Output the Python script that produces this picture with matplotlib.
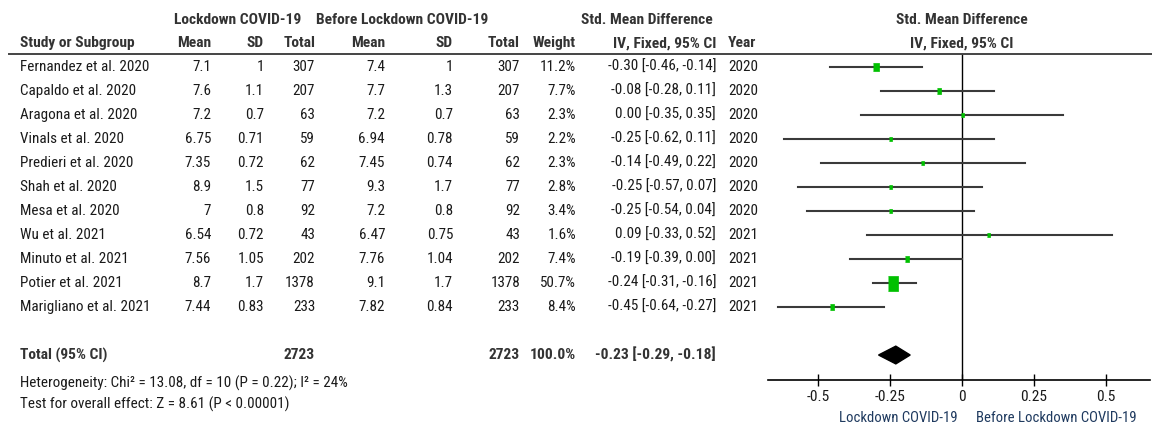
import matplotlib
matplotlib.use("Agg")
import matplotlib.pyplot as plt
from matplotlib import font_manager as fm
from matplotlib.transforms import blended_transform_factory

# Data
studies = ["Fernandez et al. 2020", "Capaldo et al. 2020", "Aragona et al. 2020",
           "Vinals et al. 2020", "Predieri et al. 2020", "Shah et al. 2020",
           "Mesa et al. 2020", "Wu et al. 2021", "Minuto et al. 2021",
           "Potier et al. 2021", "Marigliano et al. 2021"]
lock_mean = [7.1, 7.6, 7.2, 6.75, 7.35, 8.9, 7, 6.54, 7.56, 8.7, 7.44]
lock_sd = [1, 1.1, 0.7, 0.71, 0.72, 1.5, 0.8, 0.72, 1.05, 1.7, 0.83]
lock_n = [307, 207, 63, 59, 62, 77, 92, 43, 202, 1378, 233]
before_mean = [7.4, 7.7, 7.2, 6.94, 7.45, 9.3, 7.2, 6.47, 7.76, 9.1, 7.82]
before_sd = [1, 1.3, 0.7, 0.78, 0.74, 1.7, 0.8, 0.75, 1.04, 1.7, 0.84]
before_n = [307, 207, 63, 59, 62, 77, 92, 43, 202, 1378, 233]
weight = [11.2, 7.7, 2.3, 2.2, 2.3, 2.8, 3.4, 1.6, 7.4, 50.7, 8.4]
smd = [-0.30, -0.08, 0.00, -0.25, -0.14, -0.25, -0.25, 0.09, -0.19, -0.24, -0.45]
ci_lo = [-0.46, -0.28, -0.35, -0.62, -0.49, -0.57, -0.54, -0.33, -0.39, -0.31, -0.64]
ci_hi = [-0.14, 0.11, 0.35, 0.11, 0.22, 0.07, 0.04, 0.52, 0.00, -0.16, -0.27]
years = [2020, 2020, 2020, 2020, 2020, 2020, 2020, 2021, 2021, 2021, 2021]

total_lock = 2723
total_before = 2723
total_smd, total_lo, total_hi = -0.23, -0.29, -0.18
heterogeneity = "Heterogeneity: Chi² = 13.08, df = 10 (P = 0.22); I² = 24%"
overall = "Test for overall effect: Z = 8.61 (P < 0.00001)"
xticks = [-0.5, -0.25, 0, 0.25, 0.5]
xtick_labels = ["-0.5", "-0.25", "0", "0.25", "0.5"]


# pick a narrow font if one is installed
def pick_font():
    fl = fm.fontManager.ttflist
    names = {f.name for f in fl}
    for n in ['Liberation Sans Narrow', 'Arial Narrow', 'Roboto Condensed',
              'Noto Sans Condensed', 'Open Sans Condensed', 'DejaVu Sans Condensed']:
        if n in names:
            return n, 'normal'
    for n in ['Noto Sans', 'Roboto', 'Open Sans', 'DejaVu Sans']:
        for f in fl:
            if f.name == n and 'condensed' in str(f.stretch):
                return n, f.stretch
    return 'Liberation Sans', 'normal'


fam, stretch = pick_font()
plt.rcParams['font.family'] = [fam, 'DejaVu Sans']
plt.rcParams['font.stretch'] = stretch

W, H = 1152, 423
fig = plt.figure(figsize=(W / 100, H / 100), dpi=100)
renderer = fig.canvas.get_renderer()


def fit_size(s, px, weight='normal'):
    t = fig.text(0, 0, s, fontsize=12, fontweight=weight)
    w = t.get_window_extent(renderer).width
    t.remove()
    return min(12.5, 12 * px / w)


fs = fit_size("Fernandez et al. 2020", 128)
fsb = fit_size("Study or Subgroup", 115, 'bold')
fst = fit_size("Before Lockdown COVID-19", 160)

ax = fig.add_axes([768 / W, 1 - 379.5 / H, 382 / W, (379.5 - 54) / H])
ax.set_xlim(-0.674, 0.653)
ax.set_ylim(13.02, -0.54)

tr = blended_transform_factory(fig.transFigure, ax.transData)
hdr = dict(transform=tr, fontweight='bold', color='#333333', va='center', fontsize=fsb)
txt = dict(transform=tr, color='#1a1a1a', va='center', fontsize=fs)


def fx(px):
    return px / W


# header
ax.text(fx(238), -1.96, "Lockdown COVID-19", ha='center', **hdr)
ax.text(fx(402), -1.96, "Before Lockdown COVID-19", ha='center', **hdr)
ax.text(fx(647), -1.96, "Std. Mean Difference", ha='center', **hdr)
ax.text(fx(962), -1.96, "Std. Mean Difference", ha='center', **hdr)
ax.text(fx(20), -0.98, "Study or Subgroup", ha='left', **hdr)
for x, s in [(211, "Mean"), (264, "SD"), (315, "Total"), (385, "Mean"),
             (453, "SD"), (520, "Total"), (576, "Weight"), (716, "IV, Fixed, 95% CI")]:
    ax.text(fx(x), -0.98, s, ha='right', **hdr)
ax.text(fx(728), -0.98, "Year", ha='left', **hdr)
ax.text(fx(962), -0.98, "IV, Fixed, 95% CI", ha='center', **hdr)
ax.plot([fx(9), 1], [-0.54, -0.54], transform=tr, color='#444444', lw=1.4, clip_on=False)

# study rows
for i, name in enumerate(studies):
    ax.text(fx(20), i, name, ha='left', **txt)
    ax.text(fx(211), i, f"{lock_mean[i]:g}", ha='right', **txt)
    ax.text(fx(264), i, f"{lock_sd[i]:g}", ha='right', **txt)
    ax.text(fx(315), i, f"{lock_n[i]}", ha='right', **txt)
    ax.text(fx(385), i, f"{before_mean[i]:g}", ha='right', **txt)
    ax.text(fx(453), i, f"{before_sd[i]:g}", ha='right', **txt)
    ax.text(fx(520), i, f"{before_n[i]}", ha='right', **txt)
    ax.text(fx(576), i, f"{weight[i]:.1f}%", ha='right', **txt)
    ax.text(fx(716), i, f"{smd[i]:.2f} [{ci_lo[i]:.2f}, {ci_hi[i]:.2f}]", ha='right', **txt)
    ax.text(fx(728), i, f"{years[i]}", ha='left', **txt)

    ax.plot([ci_lo[i], ci_hi[i]], [i, i], color='#3a3a3a', lw=1.5, zorder=2)
    ms = 10.8 * (weight[i] / max(weight)) ** 0.5
    ax.plot(smd[i], i, marker=[(-0.36, -0.5), (0.36, -0.5), (0.36, 0.5), (-0.36, 0.5)],
            ms=max(ms, 3), color='#00c000', mec='#00c000', mew=0.5, zorder=3)

# total row
ty = len(studies) + 1
tot = dict(hdr)
ax.text(fx(20), ty, "Total (95% CI)", ha='left', **tot)
ax.text(fx(315), ty, f"{total_lock}", ha='right', **tot)
ax.text(fx(520), ty, f"{total_before}", ha='right', **tot)
ax.text(fx(576), ty, "100.0%", ha='right', **tot)
ax.text(fx(716), ty, f"{total_smd:.2f} [{total_lo:.2f}, {total_hi:.2f}]", ha='right', **tot)
ax.fill([total_lo, total_smd, total_hi, total_smd], [ty, ty - 0.37, ty, ty + 0.37],
        color='black', zorder=3)

ax.text(fx(20), 13.17, heterogeneity, ha='left', **txt)
ax.text(fx(20), 14.05, overall, ha='left', **txt)

ax.axvline(0, color='black', lw=1, zorder=1)

for s in ['left', 'right', 'top']:
    ax.spines[s].set_visible(False)
ax.spines['bottom'].set_linewidth(1.2)
ax.set_yticks([])
ax.set_xticks(xticks)
ax.set_xticklabels(xtick_labels, fontsize=fst * 1.05, color='#1a1a1a')
ax.tick_params(axis='x', direction='inout', length=9, width=1, pad=3)

ax.text(-0.017, 14.62, "Lockdown COVID-19", ha='right', va='center', color='#1f3a5f', fontsize=fst)
ax.text(0.05, 14.62, "Before Lockdown COVID-19", ha='left', va='center', color='#1f3a5f', fontsize=fst)

fig.savefig("out.png", dpi=100)
